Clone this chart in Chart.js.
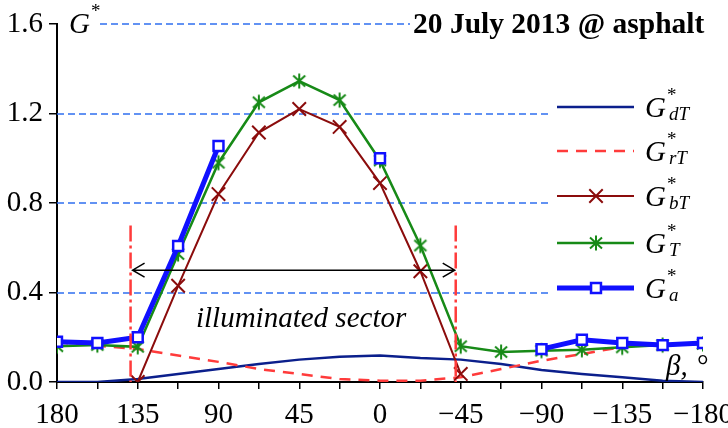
<!DOCTYPE html>
<html lang="en">
<head>
    <meta charset="UTF-8">
    <title>20 July 2013 @ asphalt</title>
    <script src="https://cdn.jsdelivr.net/npm/chart.js@4.4.1/dist/chart.umd.min.js"></script>
    <style>
        body {
            margin: 0;
            background: #fff;
        }
        .wrap {
            position: relative;
            width: 728px;
            height: 428px;
        }
    </style>
</head>
<body>
    <div class="wrap">
        <canvas id="chart"></canvas>
    </div>

    <script>
        // sun azimuth relative to the surface, degrees
        const beta = [180, 157.5, 135, 112.5, 90, 67.5, 45, 22.5, 0, -22.5, -45, -67.5, -90, -112.5, -135, -157.5, -180];

        // normalised irradiance components
        const gdT = [0, 0, 0.013, 0.036, 0.058, 0.08, 0.1, 0.113, 0.118, 0.107, 0.1, 0.08, 0.054, 0.036, 0.021, 0.006, 0];
        const grT = [0.178, 0.162, 0.147, 0.118, 0.09, 0.058, 0.036, 0.013, 0.006, 0.006, 0.021, 0.058, 0.095, 0.125, 0.157, 0.168, 0.175];
        const gbT = [null, null, 0, 0.43, 0.84, 1.115, 1.22, 1.14, 0.889, 0.495, 0.036, null, null, null, null, null, null];
        const gT = [0.16, 0.165, 0.157, 0.572, 0.98, 1.25, 1.345, 1.26, 0.99, 0.61, 0.16, 0.134, 0.14, 0.144, 0.155, 0.165, 0.17];
        const ga = [0.18, 0.174, 0.2, 0.608, 1.055, null, null, null, 1.0, null, null, null, 0.147, 0.189, 0.174, 0.165, 0.174];

        const yTicks = [0, 0.4, 0.8, 1.2, 1.6];

        // illuminated sector bounds (deg) and the arrow level
        const sectorBounds = [139, -42.2];
        const sectorTop = 0.70;
        const arrowLevel = 0.5;

        const serif = "'Liberation Serif', 'Times New Roman', serif";
        Chart.defaults.font.family = serif;

        function pts(arr) {
            return beta.map((b, i) => ({ x: b, y: arr[i] }));
        }

        // six-armed asterisk marker used for G*T
        function asterisk(color) {
            const c = document.createElement('canvas');
            c.width = 18;
            c.height = 18;
            const g = c.getContext('2d');
            g.strokeStyle = color;
            g.lineWidth = 2;
            g.beginPath();
            g.moveTo(9, 1.5); g.lineTo(9, 16.5);
            g.moveTo(3, 3.5); g.lineTo(15, 14.5);
            g.moveTo(15, 3.5); g.lineTo(3, 14.5);
            g.stroke();
            return c;
        }

        const series = [
            { label: 'G*dT', sub: 'dT', data: gdT, color: '#0b1f8c', width: 2.5, dash: [], point: false, radius: 0, order: 5 },
            { label: 'G*rT', sub: 'rT', data: grT, color: '#ff3b3b', width: 2.5, dash: [11, 8], point: false, radius: 0, order: 4 },
            { label: 'G*bT', sub: 'bT', data: gbT, color: '#8b0c0c', width: 2, dash: [], point: 'crossRot', radius: 9.5, order: 3 },
            { label: 'G*T', sub: 'T', data: gT, color: '#178a17', width: 2.5, dash: [], point: asterisk('#178a17'), radius: 7.5, order: 2 },
            { label: 'G*a', sub: 'a', data: ga, color: '#1010ff', width: 5, dash: [], point: 'rect', radius: 7, order: 1 }
        ];

        const datasets = series.map(s => ({
            label: s.label,
            data: pts(s.data),
            borderColor: s.color,
            borderWidth: s.width,
            borderDash: s.dash,
            backgroundColor: s.point === 'rect' ? '#fff' : s.color,
            pointStyle: s.point || 'circle',
            pointRadius: s.radius,
            pointBorderWidth: s.point === 'rect' ? 2.5 : 2,
            pointBorderColor: s.color,
            pointBackgroundColor: s.point === 'rect' ? '#fff' : s.color,
            spanGaps: false,
            tension: 0,
            order: s.order
        }));

        function textWithIndex(ctx, x, base, main, sup, sub, size) {
            ctx.font = 'italic ' + size + 'px ' + serif;
            ctx.fillText(main, x, base);
            const w = ctx.measureText(main).width;
            ctx.font = Math.round(size * 0.65) + 'px ' + serif;
            ctx.fillText(sup, x + w + 1, base - size * 0.55);
            if (sub) {
                ctx.font = 'italic ' + Math.round(size * 0.65) + 'px ' + serif;
                ctx.fillText(sub, x + w + 3, base + 3);
            }
        }

        const decor = {
            id: 'decor',
            beforeDatasetsDraw(chart) {
                const ctx = chart.ctx;
                const xs = chart.scales.x, ys = chart.scales.y;
                ctx.save();
                ctx.strokeStyle = '#2f6ff0';
                ctx.lineWidth = 1.5;
                ctx.setLineDash([7, 4]);
                yTicks.forEach(v => {
                    if (v === 0) return;
                    const y = Math.round(ys.getPixelForValue(v));
                    let x1 = xs.left, x2 = 552;
                    if (v === 1.6) { x1 = 100; x2 = 410; }
                    ctx.beginPath();
                    ctx.moveTo(x1, y);
                    ctx.lineTo(x2, y);
                    ctx.stroke();
                });
                ctx.restore();
            },
            afterDatasetsDraw(chart) {
                const ctx = chart.ctx;
                const xs = chart.scales.x, ys = chart.scales.y;
                ctx.save();

                // sector bounds
                ctx.strokeStyle = '#ff3b3b';
                ctx.lineWidth = 2.5;
                ctx.setLineDash([16, 4, 3, 4]);
                sectorBounds.forEach(b => {
                    const x = xs.getPixelForValue(b);
                    ctx.beginPath();
                    ctx.moveTo(x, ys.getPixelForValue(sectorTop));
                    ctx.lineTo(x, ys.getPixelForValue(0));
                    ctx.stroke();
                });

                // double arrow
                ctx.setLineDash([]);
                ctx.strokeStyle = '#000';
                ctx.lineWidth = 1.5;
                const ay = ys.getPixelForValue(arrowLevel);
                const ax1 = xs.getPixelForValue(sectorBounds[0]) + 2;
                const ax2 = xs.getPixelForValue(sectorBounds[1]) - 1;
                ctx.beginPath();
                ctx.moveTo(ax1, ay);
                ctx.lineTo(ax2, ay);
                ctx.moveTo(ax1 + 12, ay - 7);
                ctx.lineTo(ax1, ay);
                ctx.lineTo(ax1 + 12, ay + 7);
                ctx.moveTo(ax2 - 12, ay - 7);
                ctx.lineTo(ax2, ay);
                ctx.lineTo(ax2 - 12, ay + 7);
                ctx.stroke();

                ctx.fillStyle = '#000';
                ctx.textBaseline = 'alphabetic';
                ctx.textAlign = 'left';
                ctx.font = 'italic 29px ' + serif;
                ctx.fillText('illuminated sector', 196, 327);

                // title and axis names
                ctx.font = 'bold 29.5px ' + serif;
                ctx.fillText('20 July 2013 @ asphalt', 413, 33);
                textWithIndex(ctx, 69, 33, 'G', '*', null, 29);
                ctx.font = 'italic 29px ' + serif;
                ctx.fillText('\u03B2,', 666, 375);
                ctx.font = '29px ' + serif;
                ctx.fillText('\u00B0', 697, 375);

                // legend
                const rows = [107, 151, 196, 243, 288];
                series.forEach((s, i) => {
                    const y = rows[i];
                    ctx.strokeStyle = s.color;
                    ctx.lineWidth = s.width;
                    ctx.setLineDash(s.dash);
                    ctx.beginPath();
                    ctx.moveTo(557, y);
                    ctx.lineTo(634, y);
                    ctx.stroke();
                    ctx.setLineDash([]);
                    if (s.point) {
                        ctx.fillStyle = s.point === 'rect' ? '#fff' : s.color;
                        ctx.strokeStyle = s.color;
                        ctx.lineWidth = s.point === 'rect' ? 2.5 : 2;
                        Chart.helpers.drawPoint(ctx, {
                            pointStyle: s.point,
                            radius: s.radius,
                            rotation: 0,
                            borderWidth: ctx.lineWidth
                        }, 596, y);
                    }
                    ctx.fillStyle = '#000';
                    textWithIndex(ctx, 645, y + 10, 'G', '*', s.sub, 29);
                });
                ctx.restore();
            }
        };

        new Chart(document.getElementById('chart'), {
            type: 'line',
            data: { datasets: datasets },
            plugins: [decor],
            options: {
                responsive: true,
                maintainAspectRatio: false,
                animation: false,
                layout: { padding: { top: 24, right: 25, left: 0, bottom: 0 } },
                plugins: {
                    legend: { display: false },
                    tooltip: { enabled: false }
                },
                scales: {
                    x: {
                        type: 'linear',
                        reverse: true,
                        min: -180,
                        max: 180,
                        afterFit(scale) {
                            scale.height = 46;
                            scale.paddingLeft = 0;
                            scale.paddingRight = 0;
                        },
                        ticks: {
                            stepSize: 22.5,
                            autoSkip: false,
                            maxRotation: 0,
                            color: '#000',
                            padding: 9,
                            font: { family: serif, size: 29 },
                            callback: v => (v % 45 === 0 ? (v < 0 ? '\u2212' + Math.abs(v) : String(v)) : '')
                        },
                        grid: { drawOnChartArea: false, drawTicks: true, tickLength: 7, color: '#000', lineWidth: 1.5 },
                        border: { color: '#000', width: 2 }
                    },
                    y: {
                        min: 0,
                        max: 1.6,
                        afterFit(scale) {
                            scale.width = 57;
                            scale.paddingTop = 0;
                            scale.paddingBottom = 0;
                        },
                        afterBuildTicks(scale) { scale.ticks = yTicks.map(v => ({ value: v })); },
                        ticks: {
                            color: '#000',
                            padding: 6,
                            font: { family: serif, size: 29 },
                            callback: v => v.toFixed(1)
                        },
                        grid: { drawOnChartArea: false, drawTicks: true, tickLength: 8, color: '#000', lineWidth: 1.5 },
                        border: { color: '#000', width: 2 }
                    }
                }
            }
        });
    </script>
</body>
</html>
